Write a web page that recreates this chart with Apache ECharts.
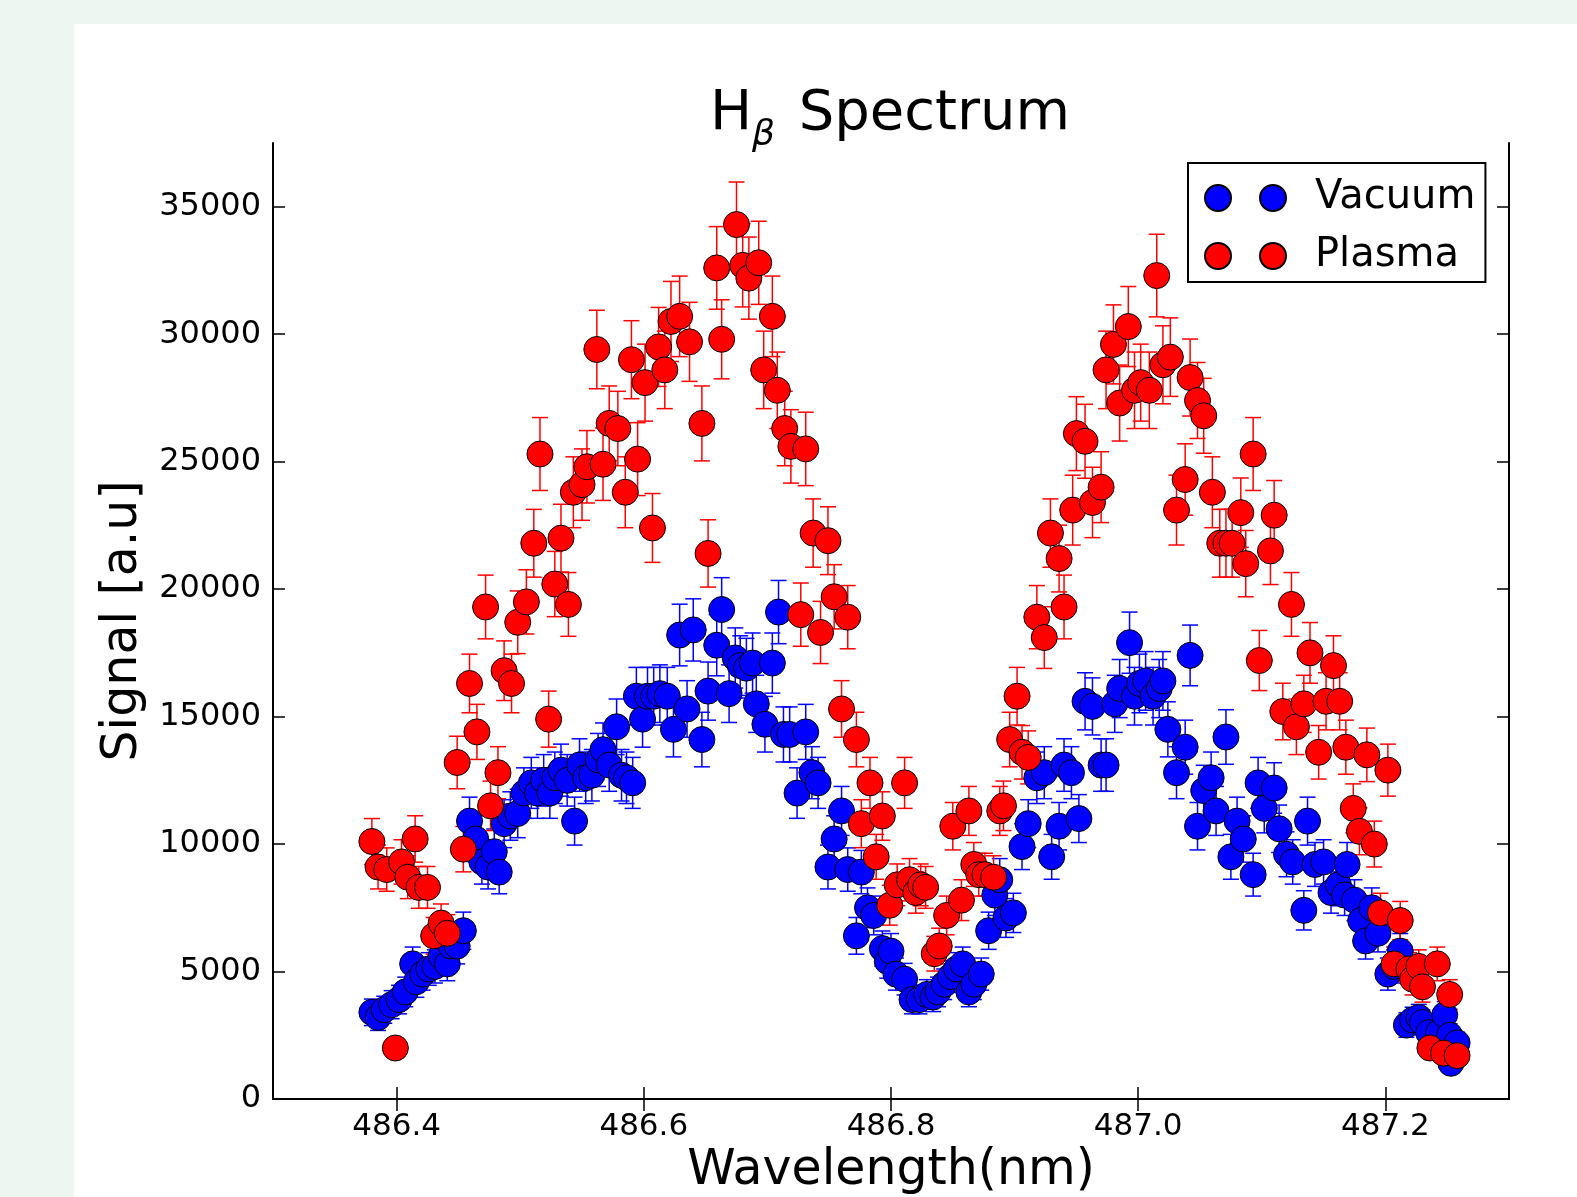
<!DOCTYPE html>
<html>
<head>
<meta charset="utf-8">
<title>H-beta Spectrum</title>
<script src="https://cdn.jsdelivr.net/npm/echarts@6/dist/echarts.min.js"></script>
<style>
  html, body { margin: 0; padding: 0; width: 1577px; height: 1197px; overflow: hidden; background: rgb(237,246,241); }
  #panel { position: absolute; left: 74px; top: 24px; right: 0; bottom: 0; background: #ffffff; }
  #chart { position: absolute; left: 0; top: 0; width: 1577px; height: 1197px; }
</style>
</head>
<body>
<div id="panel"></div>
<div id="chart"></div>
<script>
// Tick positions
const xTicks = [486.4, 486.6, 486.8, 487.0, 487.2];
const yTicks = [0, 5000, 10000, 15000, 20000, 25000, 30000, 35000];

// Vacuum measurement: wavelength (nm), signal (a.u.), error
const vacWavelength = [
  486.380, 486.385, 486.390, 486.396, 486.402, 486.407, 486.413, 486.416, 486.421, 486.426,
  486.431, 486.436, 486.441, 486.444, 486.449, 486.454, 486.459, 486.464, 486.469, 486.474,
  486.479, 486.483, 486.487, 486.492, 486.498, 486.503, 486.509, 486.514, 486.519, 486.524,
  486.528, 486.533, 486.538, 486.544, 486.548, 486.553, 486.558, 486.563, 486.567, 486.572,
  486.578, 486.582, 486.586, 486.591, 486.594, 486.599, 486.603, 486.608, 486.613, 486.619,
  486.624, 486.629, 486.635, 486.640, 486.647, 486.652, 486.659, 486.663, 486.669, 486.674,
  486.678, 486.683, 486.688, 486.691, 486.698, 486.704, 486.709, 486.713, 486.718, 486.724,
  486.731, 486.736, 486.741, 486.749, 486.754, 486.760, 486.765, 486.772, 486.776, 486.781,
  486.786, 486.793, 486.797, 486.800, 486.804, 486.811, 486.817, 486.823, 486.829, 486.834,
  486.838, 486.843, 486.848, 486.853, 486.858, 486.863, 486.867, 486.873, 486.879, 486.884,
  486.888, 486.893, 486.899, 486.906, 486.911, 486.918, 486.924, 486.930, 486.936, 486.940,
  486.946, 486.952, 486.957, 486.963, 486.970, 486.974, 486.981, 486.985, 486.993, 486.997,
  487.001, 487.006, 487.012, 487.017, 487.020, 487.024, 487.031, 487.038, 487.042, 487.048,
  487.053, 487.059, 487.063, 487.071, 487.075, 487.080, 487.085, 487.093, 487.097, 487.102,
  487.110, 487.114, 487.120, 487.125, 487.134, 487.137, 487.143, 487.150, 487.156, 487.162,
  487.167, 487.169, 487.175, 487.180, 487.184, 487.189, 487.194, 487.202, 487.207, 487.212,
  487.217, 487.222, 487.227, 487.230, 487.235, 487.243, 487.248, 487.252, 487.253, 487.258
];
const vacSignal = [
  3400, 3200, 3500, 3700, 3900, 4200, 5300, 4600, 4900, 5100,
  5200, 5600, 5300, 6000, 6000, 6600, 10900, 10200, 9300, 9100,
  9700, 8900, 10800, 11100, 11200, 12000, 12400, 12000, 12500, 12000,
  12600, 12900, 12500, 10900, 13100, 12600, 12700, 13300, 13700, 13100,
  14600, 12700, 12600, 12400, 15800, 14900, 15800, 15800, 15900, 15800,
  14500, 18200, 15300, 18400, 14100, 16000, 17800, 19200, 15900, 17300,
  17000, 16900, 17100, 15500, 14700, 17100, 19100, 14300, 14300, 12000,
  14400, 12800, 12400, 9100, 10200, 11300, 9000, 6400, 8900, 7500,
  7200, 5900, 5400, 5800, 4900, 4700, 3900, 3900, 4100, 4000,
  4200, 4500, 4800, 5100, 5300, 4200, 4500, 4900, 6600, 8000,
  8600, 7100, 7300, 9900, 10800, 12600, 12800, 9500, 10700, 13100,
  12800, 11000, 15600, 15400, 13100, 13100, 15500, 16100, 17900, 15800,
  16300, 16400, 15800, 16100, 16400, 14500, 12800, 13800, 17400, 10700,
  12100, 12600, 11300, 14200, 9500, 10900, 10200, 8800, 12400, 11400,
  12200, 10600, 9600, 9300, 7400, 10900, 9200, 9300, 8100, 8400,
  8000, 9200, 7800, 7000, 6200, 7500, 6500, 4900, 5200, 5800,
  2900, 3100, 3200, 3000, 2600, 2600, 3300, 2500, 1400, 2200
];
const vacError = [
  520, 510, 530, 550, 560, 580, 660, 610, 630, 640,
  650, 670, 660, 700, 700, 730, 940, 910, 870, 860,
  890, 850, 940, 950, 950, 990, 1000, 990, 1010, 990,
  1010, 1020, 1010, 940, 1030, 1010, 1010, 1040, 1050, 1030,
  1090, 1010, 1010, 1000, 1130, 1100, 1130, 1130, 1130, 1130,
  1080, 1210, 1110, 1220, 1070, 1140, 1200, 1250, 1130, 1180,
  1170, 1170, 1180, 1120, 1090, 1180, 1240, 1080, 1080, 990,
  1080, 1020, 1000, 860, 910, 960, 850, 720, 850, 780,
  760, 690, 660, 690, 630, 620, 560, 560, 580, 570,
  580, 600, 620, 640, 660, 580, 600, 630, 730, 800,
  830, 760, 770, 900, 940, 1010, 1020, 880, 930, 1030,
  1020, 940, 1120, 1120, 1030, 1030, 1120, 1140, 1200, 1130,
  1150, 1150, 1130, 1140, 1150, 1080, 1020, 1060, 1190, 930,
  990, 1010, 960, 1070, 880, 940, 910, 840, 1000, 960,
  990, 930, 880, 870, 770, 940, 860, 870, 810, 820,
  800, 860, 800, 750, 710, 780, 730, 630, 650, 690,
  480, 500, 510, 490, 460, 460, 520, 450, 340, 420
];

// Plasma measurement: wavelength (nm), signal (a.u.), error
const plasmaWavelength = [
  486.380, 486.385, 486.392, 486.399, 486.404, 486.409, 486.415, 486.418, 486.425, 486.430,
  486.436, 486.441, 486.449, 486.454, 486.459, 486.465, 486.472, 486.476, 486.482, 486.487,
  486.493, 486.498, 486.505, 486.511, 486.516, 486.523, 486.528, 486.533, 486.539, 486.543,
  486.550, 486.554, 486.562, 486.567, 486.572, 486.579, 486.585, 486.590, 486.595, 486.601,
  486.607, 486.612, 486.617, 486.622, 486.629, 486.637, 486.647, 486.652, 486.659, 486.663,
  486.675, 486.680, 486.685, 486.693, 486.697, 486.704, 486.708, 486.714, 486.719, 486.727,
  486.731, 486.737, 486.743, 486.749, 486.754, 486.760, 486.765, 486.772, 486.776, 486.783,
  486.788, 486.793, 486.799, 486.805, 486.811, 486.815, 486.820, 486.824, 486.828, 486.835,
  486.839, 486.845, 486.850, 486.857, 486.863, 486.867, 486.871, 486.876, 486.883, 486.888,
  486.891, 486.896, 486.902, 486.906, 486.911, 486.918, 486.924, 486.929, 486.936, 486.940,
  486.947, 486.950, 486.957, 486.963, 486.970, 486.974, 486.980, 486.985, 486.992, 486.997,
  487.002, 487.009, 487.015, 487.020, 487.026, 487.031, 487.038, 487.042, 487.048, 487.053,
  487.060, 487.066, 487.071, 487.076, 487.083, 487.087, 487.093, 487.098, 487.107, 487.110,
  487.117, 487.124, 487.128, 487.134, 487.139, 487.146, 487.152, 487.158, 487.163, 487.168,
  487.174, 487.179, 487.185, 487.191, 487.196, 487.202, 487.207, 487.212, 487.219, 487.222,
  487.227, 487.230, 487.236, 487.242, 487.247, 487.252, 487.258
];
const plasmaSignal = [
  10100, 9100, 9000, 2000, 9300, 8700, 10200, 8300, 8300, 6400,
  6900, 6500, 13200, 9800, 16300, 14400, 19300, 11500, 12800, 16800,
  16300, 18700, 19500, 21800, 25300, 14900, 20200, 22000, 19400, 23800,
  24100, 24800, 29400, 24900, 26500, 26300, 23800, 29000, 25100, 28100,
  22400, 29500, 28600, 30500, 30700, 29700, 26500, 21400, 32600, 29800,
  34300, 32700, 32200, 32800, 28600, 30700, 27800, 26300, 25600, 19000,
  25500, 22200, 18300, 21900, 19700, 15300, 18900, 14100, 10800, 12400,
  9500, 11100, 7600, 8400, 12400, 8600, 8100, 8400, 8300, 5700,
  6000, 7200, 10700, 7800, 11300, 9200, 8800, 8800, 8700, 11300,
  11500, 14100, 15800, 13600, 13400, 18900, 18100, 22200, 21200, 19300,
  23100, 26100, 25800, 23400, 24000, 28600, 29600, 27300, 30300, 27800,
  28100, 27800, 32300, 28800, 29100, 23100, 24300, 28300, 27400, 26800,
  23800, 21800, 21800, 21800, 23000, 21000, 25300, 17200, 21500, 22900,
  15200, 19400, 14600, 15500, 17500, 13600, 15600, 17000, 15600, 13800,
  11400, 10500, 13500, 10000, 7300, 12900, 5300, 7000, 5100, 4700,
  5200, 4400, 2000, 5300, 1800, 4100, 1700
];
const plasmaError = [
  900, 860, 850, 400, 870, 840, 910, 820, 820, 720,
  750, 730, 1030, 890, 1150, 1080, 1250, 970, 1020, 1170,
  1150, 1230, 1260, 1330, 1430, 1100, 1280, 1330, 1250, 1390,
  1400, 1420, 1540, 1420, 1470, 1460, 1390, 1530, 1430, 1510,
  1350, 1550, 1520, 1570, 1580, 1550, 1470, 1320, 1620, 1550,
  1670, 1630, 1610, 1630, 1520, 1580, 1500, 1460, 1440, 1240,
  1440, 1340, 1220, 1330, 1260, 1110, 1240, 1070, 940, 1000,
  880, 950, 780, 820, 1000, 830, 810, 820, 820, 680,
  700, 760, 930, 800, 960, 860, 840, 840, 840, 960,
  970, 1070, 1130, 1050, 1040, 1240, 1210, 1340, 1310, 1250,
  1370, 1450, 1450, 1380, 1390, 1520, 1550, 1490, 1570, 1500,
  1510, 1500, 1620, 1530, 1540, 1370, 1400, 1510, 1490, 1470,
  1390, 1330, 1330, 1330, 1360, 1300, 1430, 1180, 1320, 1360,
  1110, 1250, 1090, 1120, 1190, 1050, 1120, 1170, 1120, 1060,
  960, 920, 1050, 900, 770, 1020, 660, 750, 640, 620,
  650, 600, 400, 660, 380, 580, 370
];

const FONT = '"DejaVu Sans", "Noto Sans", sans-serif';
const vacColor = '#0000ff';
const plasmaColor = '#ff0000';

function zipRows(w, s, e) {
  return w.map((x, i) => [x, s[i], e[i]]);
}
const vacRows = zipRows(vacWavelength, vacSignal, vacError);
const plasmaRows = zipRows(plasmaWavelength, plasmaSignal, plasmaError);

// Vertical error bar with caps, drawn through the axis scales
function errorBarRenderer(color) {
  const capHalf = 8;
  return function (params, api) {
    const x = api.value(0), y = api.value(1), e = api.value(2);
    const hi = api.coord([x, y + e]);
    const lo = api.coord([x, y - e]);
    const st = { stroke: color, lineWidth: 1.5 };
    return {
      type: 'group',
      children: [
        { type: 'line', shape: { x1: hi[0], y1: hi[1], x2: lo[0], y2: lo[1] }, style: st },
        { type: 'line', shape: { x1: hi[0] - capHalf, y1: hi[1], x2: hi[0] + capHalf, y2: hi[1] }, style: st },
        { type: 'line', shape: { x1: lo[0] - capHalf, y1: lo[1], x2: lo[0] + capHalf, y2: lo[1] }, style: st }
      ]
    };
  };
}

const frameLine = { show: true, lineStyle: { color: '#000', width: 2 } };
const innerTick = (vals) => ({ show: true, inside: true, length: 12, customValues: vals, lineStyle: { color: '#000', width: 1.5 } });

// Two markers per legend entry
const pairIcon = 'path://M0,13A13,13,0,1,1,26,13A13,13,0,1,1,0,13ZM55,13A13,13,0,1,1,81,13A13,13,0,1,1,55,13Z';

const chart = echarts.init(document.getElementById('chart'), null, { renderer: 'canvas' });
chart.setOption({
  animation: false,
  backgroundColor: 'transparent',
  textStyle: { fontFamily: FONT },
  grid: { left: 273, top: 143, width: 1236, height: 956, outerBoundsMode: 'none', containLabel: false },
  graphic: [{
    type: 'text',
    x: 890,
    y: 68,
    style: {
      text: '{h|H}{s|β}{h| Spectrum}',
      align: 'center',
      verticalAlign: 'top',
      fill: '#000',
      rich: {
        h: { fontSize: 56, fontFamily: FONT, lineHeight: 86, verticalAlign: 'bottom', padding: [0, 0, 12, 0], fill: '#000' },
        s: { fontSize: 36, fontFamily: FONT, fontStyle: 'italic', lineHeight: 16, verticalAlign: 'bottom', padding: [0, 6, 0, 0], fill: '#000' }
      }
    }
  }],
  legend: {
    data: ['Vacuum', 'Plasma'],
    orient: 'vertical',
    left: 1188,
    top: 163,
    padding: [15, 10, 6, 16],
    itemGap: 18,
    itemWidth: 81,
    itemHeight: 26,
    icon: pairIcon,
    backgroundColor: '#fff',
    borderColor: '#000',
    borderWidth: 2,
    borderRadius: 0,
    selectedMode: false,
    textStyle: { fontSize: 40, color: '#000', fontFamily: FONT, padding: [0, 0, 0, 24] }
  },
  xAxis: [{
    type: 'value',
    position: 'bottom',
    min: 486.3,
    max: 487.3,
    axisLine: frameLine,
    axisTick: innerTick(xTicks),
    axisLabel: {
      customValues: xTicks,
      formatter: (v) => v.toFixed(1),
      fontSize: 31, color: '#000', fontFamily: FONT, margin: 12
    },
    splitLine: { show: false },
    name: 'Wavelength(nm)',
    nameLocation: 'middle',
    nameGap: 48,
    nameTextStyle: { fontSize: 49, color: '#000', fontFamily: FONT }
  }, {
    type: 'value',
    position: 'top',
    min: 486.3,
    max: 487.3,
    axisLine: frameLine,
    axisTick: innerTick(xTicks),
    axisLabel: { show: false },
    splitLine: { show: false }
  }],
  yAxis: [{
    type: 'value',
    position: 'left',
    min: 0,
    max: 37500,
    axisLine: frameLine,
    axisTick: innerTick(yTicks),
    axisLabel: {
      customValues: yTicks,
      formatter: (v) => String(v),
      fontSize: 32, color: '#000', fontFamily: FONT, margin: 12
    },
    splitLine: { show: false },
    name: 'Signal [a.u]',
    nameLocation: 'middle',
    nameGap: 125,
    nameTextStyle: { fontSize: 49, color: '#000', fontFamily: FONT }
  }, {
    type: 'value',
    position: 'right',
    min: 0,
    max: 37500,
    axisLine: frameLine,
    axisTick: innerTick(yTicks),
    axisLabel: { show: false },
    splitLine: { show: false }
  }],
  series: [
    {
      type: 'custom',
      name: 'vacuum-errors',
      renderItem: errorBarRenderer(vacColor),
      data: vacRows,
      encode: { x: 0, y: 1 },
      silent: true
    },
    {
      type: 'scatter',
      name: 'Vacuum',
      data: vacRows.map(r => [r[0], r[1]]),
      symbol: 'circle',
      symbolSize: 26,
      itemStyle: { color: vacColor, borderColor: '#000', borderWidth: 1, opacity: 1 },
      emphasis: { disabled: true }
    },
    {
      type: 'custom',
      name: 'plasma-errors',
      renderItem: errorBarRenderer(plasmaColor),
      data: plasmaRows,
      encode: { x: 0, y: 1 },
      silent: true
    },
    {
      type: 'scatter',
      name: 'Plasma',
      data: plasmaRows.map(r => [r[0], r[1]]),
      symbol: 'circle',
      symbolSize: 26,
      itemStyle: { color: plasmaColor, borderColor: '#000', borderWidth: 1, opacity: 1 },
      emphasis: { disabled: true }
    }
  ]
});
</script>
</body>
</html>
